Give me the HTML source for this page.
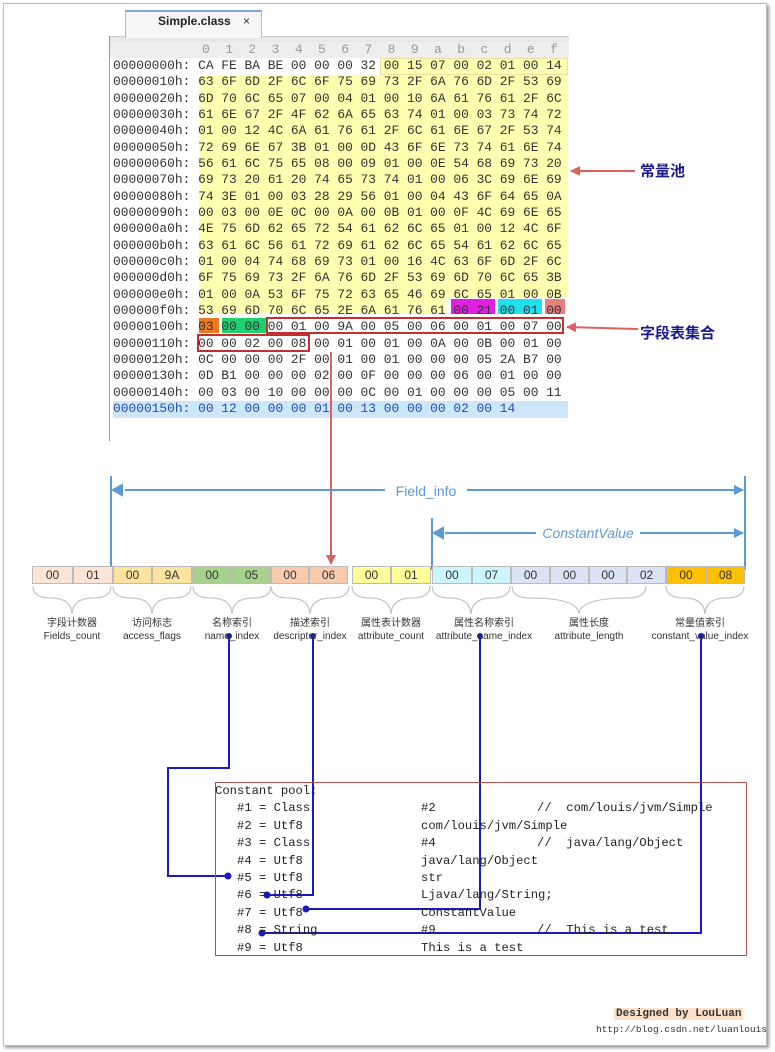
<!DOCTYPE html>
<html><head><meta charset="utf-8"><style>
body{margin:0;width:775px;height:1052px;background:#fff;position:relative;overflow:hidden;font-family:"Liberation Sans","Noto Sans CJK SC",sans-serif}
.a{position:absolute}
.hx{position:absolute;left:113px;font:12.9px "Liberation Mono",monospace;line-height:15px;color:#333;white-space:pre}
.box{position:absolute;top:566px;height:18px;border:1px solid #bbb;box-sizing:border-box;font-size:12px;text-align:center;line-height:17px;color:#333}
.lb{position:absolute;font-size:10px;color:#333;text-align:center;line-height:13px;width:100px}
.cp{position:absolute;font:12.2px "Liberation Mono",monospace;color:#222;white-space:pre;line-height:17.4px}
</style></head><body>
<div class="a" style="left:3px;top:3px;width:762px;height:1041px;border:1px solid #bbb;box-shadow:2px 2px 3px #999"></div>
<div class="a" style="left:109px;top:36px;width:460px;height:6px;background:#e8e8e8;border-top:1px solid #ccc"></div>
<div class="a" style="left:109px;top:42px;width:460px;height:16px;background:#eee"></div>
<div class="a" style="left:109px;top:36px;width:1px;height:405px;background:#999"></div>
<div class="a" style="left:125px;top:10px;width:135px;height:26px;background:#f6f6f6;border:1px solid #bbb;border-bottom:none;border-top:2px solid #7fa7d6"></div>
<div class="a" style="left:158px;top:14px;font-size:12px;font-weight:bold;color:#222">Simple.class</div>
<div class="a" style="left:243px;top:14px;font-size:12px;color:#333">×</div>
<div class="a" style="left:380px;top:58px;width:188px;height:17px;background:#ffffb0;border:1px solid #e8e0a0;box-sizing:border-box"></div>
<div class="a" style="left:199px;top:75px;width:369px;height:222px;background:#ffffb0"></div>
<div class="a" style="left:199px;top:297px;width:246px;height:17px;background:#ffffb0"></div>
<div class="a" style="left:451px;top:299px;width:44px;height:15px;background:#e020e0"></div>
<div class="a" style="left:498px;top:299px;width:44px;height:15px;background:#20e0f0"></div>
<div class="a" style="left:545px;top:299px;width:20px;height:15px;background:#e88080"></div>
<div class="a" style="left:199px;top:318px;width:20px;height:15px;background:#f07820"></div>
<div class="a" style="left:222px;top:318px;width:44px;height:15px;background:#20d070"></div>
<div class="a" style="left:113px;top:401px;width:455px;height:17px;background:#cde6fa"></div>
<div class="a" style="left:266px;top:317px;width:298px;height:17px;border:2px solid #c03030;box-sizing:border-box"></div>
<div class="a" style="left:197px;top:334px;width:113px;height:18px;border:2px solid #c03030;box-sizing:border-box"></div>
<div class="hx" style="left:202px;top:42px;color:#999">0  1  2  3  4  5  6  7  8  9  a  b  c  d  e  f</div>
<div class="hx" style="top:58px">00000000h: CA FE BA BE 00 00 00 32 00 15 07 00 02 01 00 14</div>
<div class="hx" style="top:74.33px">00000010h: 63 6F 6D 2F 6C 6F 75 69 73 2F 6A 76 6D 2F 53 69</div>
<div class="hx" style="top:90.66px">00000020h: 6D 70 6C 65 07 00 04 01 00 10 6A 61 76 61 2F 6C</div>
<div class="hx" style="top:107px">00000030h: 61 6E 67 2F 4F 62 6A 65 63 74 01 00 03 73 74 72</div>
<div class="hx" style="top:123.3px">00000040h: 01 00 12 4C 6A 61 76 61 2F 6C 61 6E 67 2F 53 74</div>
<div class="hx" style="top:139.65px">00000050h: 72 69 6E 67 3B 01 00 0D 43 6F 6E 73 74 61 6E 74</div>
<div class="hx" style="top:156px">00000060h: 56 61 6C 75 65 08 00 09 01 00 0E 54 68 69 73 20</div>
<div class="hx" style="top:172.3px">00000070h: 69 73 20 61 20 74 65 73 74 01 00 06 3C 69 6E 69</div>
<div class="hx" style="top:188.6px">00000080h: 74 3E 01 00 03 28 29 56 01 00 04 43 6F 64 65 0A</div>
<div class="hx" style="top:205px">00000090h: 00 03 00 0E 0C 00 0A 00 0B 01 00 0F 4C 69 6E 65</div>
<div class="hx" style="top:221.3px">000000a0h: 4E 75 6D 62 65 72 54 61 62 6C 65 01 00 12 4C 6F</div>
<div class="hx" style="top:237.6px">000000b0h: 63 61 6C 56 61 72 69 61 62 6C 65 54 61 62 6C 65</div>
<div class="hx" style="top:254px">000000c0h: 01 00 04 74 68 69 73 01 00 16 4C 63 6F 6D 2F 6C</div>
<div class="hx" style="top:270.3px">000000d0h: 6F 75 69 73 2F 6A 76 6D 2F 53 69 6D 70 6C 65 3B</div>
<div class="hx" style="top:286.6px">000000e0h: 01 00 0A 53 6F 75 72 63 65 46 69 6C 65 01 00 0B</div>
<div class="hx" style="top:303px">000000f0h: 53 69 6D 70 6C 65 2E 6A 61 76 61 00 21 00 01 00</div>
<div class="hx" style="top:319.3px">00000100h: 03 00 00 00 01 00 9A 00 05 00 06 00 01 00 07 00</div>
<div class="hx" style="top:335.6px">00000110h: 00 00 02 00 08 00 01 00 01 00 0A 00 0B 00 01 00</div>
<div class="hx" style="top:352px">00000120h: 0C 00 00 00 2F 00 01 00 01 00 00 00 05 2A B7 00</div>
<div class="hx" style="top:368.3px">00000130h: 0D B1 00 00 00 02 00 0F 00 00 00 06 00 01 00 00</div>
<div class="hx" style="top:384.6px">00000140h: 00 03 00 10 00 00 00 0C 00 01 00 00 00 05 00 11</div>
<div class="hx" style="top:401px;color:#2050b0">00000150h: 00 12 00 00 00 01 00 13 00 00 00 02 00 14</div>
<svg class="a" style="left:0;top:0" width="775" height="1052">
<defs>
<marker id="r" markerWidth="10" markerHeight="10" refX="9" refY="5" orient="auto" markerUnits="userSpaceOnUse"><path d="M0,0L10,5L0,10z" fill="#e06060"/></marker>
<marker id="b" markerWidth="10" markerHeight="10" refX="9" refY="5" orient="auto" markerUnits="userSpaceOnUse"><path d="M0,0L10,5L0,10z" fill="#5b9bd5"/></marker>
</defs>
<line x1="635" y1="171" x2="571" y2="171" stroke="#e06060" stroke-width="2" marker-end="url(#r)"/>
<line x1="638" y1="329" x2="567" y2="327" stroke="#e06060" stroke-width="2" marker-end="url(#r)"/>
<line x1="331" y1="352" x2="331" y2="564" stroke="#e06060" stroke-width="2" marker-end="url(#r)"/>
<g stroke="#5b9bd5" stroke-width="2" fill="none">
<line x1="111" y1="476" x2="111" y2="570"/><line x1="745" y1="476" x2="745" y2="570"/>
<line x1="432" y1="518" x2="432" y2="570"/>
<line x1="125" y1="490" x2="385" y2="490"/><line x1="467" y1="490" x2="743" y2="490" marker-end="url(#b)"/>
<line x1="445" y1="533" x2="536" y2="533"/><line x1="640" y1="533" x2="743" y2="533" marker-end="url(#b)"/>
<path d="M122,485L113,490L122,495z" fill="#5b9bd5"/><path d="M443,528L434,533L443,538z" fill="#5b9bd5"/>
</g>
<text x="426" y="496" font-size="14" fill="#5b9bd5" text-anchor="middle" font-family="Liberation Sans">Field_info</text>
<text x="588" y="538" font-size="14" fill="#5b9bd5" text-anchor="middle" font-family="Liberation Sans" font-style="italic">ConstantValue</text>
<g stroke="#bbb" fill="none" stroke-width="1">
<path d="M33,586q0,12 18,12q20,0 21,16q1,-16 21,-16q18,0 18,-12"/>
<path d="M113,586q0,12 18,12q20,0 21,16q1,-16 21,-16q18,0 18,-12"/>
<path d="M193,586q0,12 18,12q20,0 21,16q1,-16 21,-16q18,0 18,-12"/>
<path d="M271,586q0,12 18,12q20,0 21,16q1,-16 21,-16q18,0 18,-12"/>
<path d="M352,586q0,12 18,12q20,0 21,16q1,-16 21,-16q18,0 18,-12"/>
<path d="M432,586q0,12 18,12q20,0 21,16q1,-16 21,-16q18,0 18,-12"/>
<path d="M512,586q0,12 18,12q48,0 49,16q1,-16 49,-16q18,0 18,-12"/>
<path d="M666,586q0,12 18,12q20,0 21,16q1,-16 21,-16q18,0 18,-12"/>
</g>
<g stroke="#1a1ac0" stroke-width="2" fill="none">
<path d="M229,636V768H168V876H227"/>
<path d="M313,636V895H267"/>
<path d="M480,636V909H306"/>
<path d="M701,636V933H262"/>
</g>
<g fill="#1a1ac0"><circle cx="229" cy="636" r="3"/><circle cx="313" cy="636" r="3"/><circle cx="480" cy="636" r="3"/><circle cx="701" cy="636" r="3"/>
<circle cx="228" cy="876" r="3.5"/><circle cx="267" cy="895" r="3.5"/><circle cx="306" cy="909" r="3.5"/><circle cx="262" cy="933" r="3.5"/></g>
</svg>
<div class="a" style="left:640px;top:160px;font-size:15px;font-weight:bold;color:#1a1a90">常量池</div>
<div class="a" style="left:640px;top:322px;font-size:15px;font-weight:bold;color:#1a1a90">字段表集合</div>
<div class="box" style="left:32px;width:41px;background:#fbe5d6">00</div>
<div class="box" style="left:73px;width:40px;background:#fbe5d6">01</div>
<div class="box" style="left:113px;width:39px;background:#fde49e">00</div>
<div class="box" style="left:152px;width:40px;background:#fde49e">9A</div>
<div class="box" style="left:192px;width:40px;background:#a9d18e">00</div>
<div class="box" style="left:232px;width:39px;background:#a9d18e">05</div>
<div class="box" style="left:271px;width:38px;background:#f8cbad">00</div>
<div class="box" style="left:309px;width:39px;background:#f8cbad">06</div>
<div class="box" style="left:352px;width:39px;background:#ffff99">00</div>
<div class="box" style="left:391px;width:40px;background:#ffff99">01</div>
<div class="box" style="left:432px;width:40px;background:#ccf6ff">00</div>
<div class="box" style="left:472px;width:39px;background:#ccf6ff">07</div>
<div class="box" style="left:511px;width:39px;background:#dae3f3">00</div>
<div class="box" style="left:550px;width:39px;background:#dae3f3">00</div>
<div class="box" style="left:589px;width:38px;background:#dae3f3">00</div>
<div class="box" style="left:627px;width:39px;background:#dae3f3">02</div>
<div class="box" style="left:666px;width:40px;background:#ffc000">00</div>
<div class="box" style="left:706px;width:39px;background:#ffc000">08</div>
<div class="lb" style="left:22px;top:617px">字段计数器<br>Fields_count</div>
<div class="lb" style="left:102px;top:617px">访问标志<br>access_flags</div>
<div class="lb" style="left:182px;top:617px">名称索引<br>name_index</div>
<div class="lb" style="left:260px;top:617px">描述索引<br>descriptor_index</div>
<div class="lb" style="left:341px;top:617px">属性表计数器<br>attribute_count</div>
<div class="lb" style="left:434px;top:617px">属性名称索引<br>attribute_name_index</div>
<div class="lb" style="left:539px;top:617px">属性长度<br>attribute_length</div>
<div class="lb" style="left:650px;top:617px">常量值索引<br>constant_value_index</div>
<div class="a" style="left:215px;top:782px;width:530px;height:172px;border:1px solid #b05050"></div>
<div class="cp" style="left:215px;top:783px">Constant pool:</div>
<div class="cp" style="left:237px;top:800.4px">#1 = Class
#2 = Utf8
#3 = Class
#4 = Utf8
#5 = Utf8
#6 = Utf8
#7 = Utf8
#8 = String
#9 = Utf8</div>
<div class="cp" style="left:421px;top:800.4px">#2
com/louis/jvm/Simple
#4
java/lang/Object
str
Ljava/lang/String;
ConstantValue
#9
This is a test</div>
<div class="cp" style="left:537px;top:800.4px">//  com/louis/jvm/Simple

//  java/lang/Object




//  This is a test</div>
<div class="a" style="left:614px;top:1008px;font:bold 11px 'Liberation Mono',monospace;color:#333;background:#fde0c8;padding:0 2px">Designed by LouLuan</div>
<div class="a" style="left:596px;top:1024px;font:9.5px 'Liberation Mono',monospace;color:#333">http://blog.csdn.net/luanlouis</div>
</body></html>
